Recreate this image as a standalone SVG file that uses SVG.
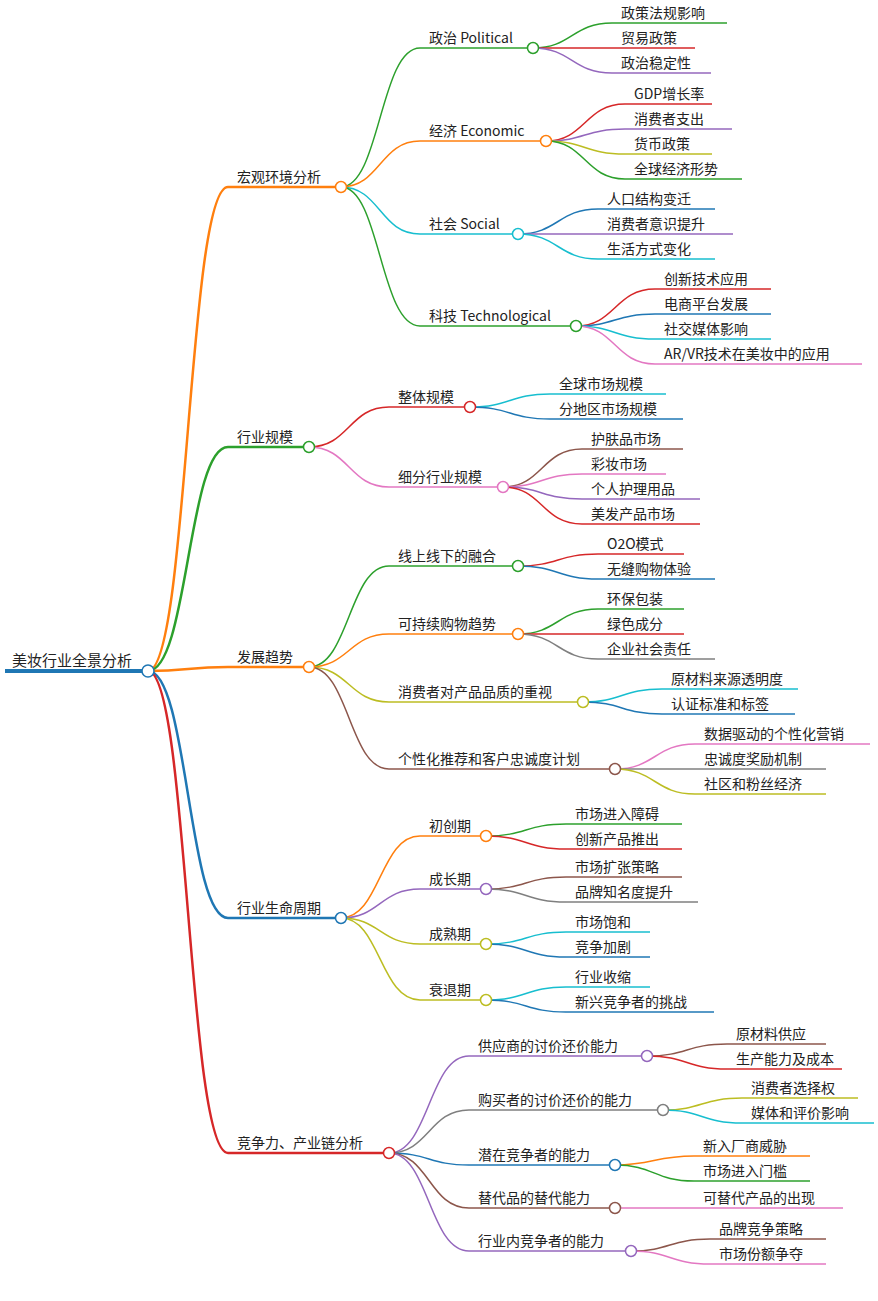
<svg xmlns="http://www.w3.org/2000/svg" width="878" height="1301" viewBox="0 0 878 1301">
<style>
text{font-family:"Noto Sans CJK SC","Liberation Sans",sans-serif;font-size:14px;fill:#222}
.e path{fill:none;stroke-width:1.5}
line{stroke-width:1.5}
circle{fill:#fff;stroke-width:1.5}
.G{stroke:#2ca02c}.O{stroke:#ff7f0e}.R{stroke:#d62728}.P{stroke:#9467bd}.Y{stroke:#bcbd22}.C{stroke:#17becf}.B{stroke:#1f77b4}.N{stroke:#8c564b}.K{stroke:#e377c2}.A{stroke:#7f7f7f}
</style>
<rect width="878" height="1301" fill="#fff"/>
<g class="e" id="connectors">
<path class="O" d="M148,671 C188,671 188,187 228,187" style="stroke-width:2.5"/>
<path class="G" d="M148,671 C188,671 188,447 228,447" style="stroke-width:2.5"/>
<path class="O" d="M148,671 C188,671 188,667 228,667" style="stroke-width:2.5"/>
<path class="B" d="M148,671 C188,671 188,918 228,918" style="stroke-width:2.5"/>
<path class="R" d="M148,671 C188,671 188,1153 228,1153" style="stroke-width:2.5"/>
<path class="G" d="M341,187 C380,187 380,48 420,48"/>
<path class="O" d="M341,187 C380,187 380,141 420,141"/>
<path class="C" d="M341,187 C380,187 380,234 420,234"/>
<path class="G" d="M341,187 C380,187 380,326 420,326"/>
<path class="G" d="M533,48 C572,48 572,23 612,23"/>
<path class="R" d="M533,48 C572,48 572,48 612,48"/>
<path class="P" d="M533,48 C572,48 572,73 612,73"/>
<path class="R" d="M546,141 C585,141 585,104 625,104"/>
<path class="P" d="M546,141 C585,141 585,129 625,129"/>
<path class="Y" d="M546,141 C585,141 585,154 625,154"/>
<path class="G" d="M546,141 C585,141 585,179 625,179"/>
<path class="B" d="M518,234 C558,234 558,209 598,209"/>
<path class="P" d="M518,234 C558,234 558,234 598,234"/>
<path class="C" d="M518,234 C558,234 558,259 598,259"/>
<path class="R" d="M576,326 C615,326 615,289 655,289"/>
<path class="B" d="M576,326 C615,326 615,314 655,314"/>
<path class="C" d="M576,326 C615,326 615,339 655,339"/>
<path class="K" d="M576,326 C615,326 615,364 655,364"/>
<path class="R" d="M309,447 C349,447 349,407 389,407"/>
<path class="K" d="M309,447 C349,447 349,487 389,487"/>
<path class="C" d="M470,407 C510,407 510,394 550,394"/>
<path class="B" d="M470,407 C510,407 510,419 550,419"/>
<path class="N" d="M503,487 C542,487 542,449 582,449"/>
<path class="K" d="M503,487 C542,487 542,474 582,474"/>
<path class="P" d="M503,487 C542,487 542,499 582,499"/>
<path class="R" d="M503,487 C542,487 542,524 582,524"/>
<path class="G" d="M309,667 C349,667 349,566 389,566"/>
<path class="O" d="M309,667 C349,667 349,634 389,634"/>
<path class="Y" d="M309,667 C349,667 349,702 389,702"/>
<path class="N" d="M309,667 C349,667 349,769 389,769"/>
<path class="R" d="M518,566 C558,566 558,554 598,554"/>
<path class="B" d="M518,566 C558,566 558,579 598,579"/>
<path class="G" d="M518,634 C558,634 558,609 598,609"/>
<path class="R" d="M518,634 C558,634 558,634 598,634"/>
<path class="A" d="M518,634 C558,634 558,659 598,659"/>
<path class="C" d="M583,702 C622,702 622,689 662,689"/>
<path class="B" d="M583,702 C622,702 622,714 662,714"/>
<path class="K" d="M615,769 C655,769 655,744 695,744"/>
<path class="A" d="M615,769 C655,769 655,769 695,769"/>
<path class="Y" d="M615,769 C655,769 655,794 695,794"/>
<path class="O" d="M341,918 C380,918 380,836 420,836"/>
<path class="P" d="M341,918 C380,918 380,889 420,889"/>
<path class="Y" d="M341,918 C380,918 380,944 420,944"/>
<path class="Y" d="M341,918 C380,918 380,1000 420,1000"/>
<path class="G" d="M486,836 C526,836 526,824 566,824"/>
<path class="R" d="M486,836 C526,836 526,849 566,849"/>
<path class="N" d="M486,889 C526,889 526,877 566,877"/>
<path class="A" d="M486,889 C526,889 526,902 566,902"/>
<path class="C" d="M486,944 C526,944 526,932 566,932"/>
<path class="B" d="M486,944 C526,944 526,957 566,957"/>
<path class="C" d="M486,1000 C526,1000 526,987 566,987"/>
<path class="B" d="M486,1000 C526,1000 526,1012 566,1012"/>
<path class="P" d="M389,1153 C429,1153 429,1056 469,1056"/>
<path class="A" d="M389,1153 C429,1153 429,1110 469,1110"/>
<path class="B" d="M389,1153 C429,1153 429,1165 469,1165"/>
<path class="N" d="M389,1153 C429,1153 429,1208 469,1208"/>
<path class="P" d="M389,1153 C429,1153 429,1251 469,1251"/>
<path class="N" d="M647,1056 C687,1056 687,1044 727,1044"/>
<path class="R" d="M647,1056 C687,1056 687,1069 727,1069"/>
<path class="Y" d="M663,1110 C702,1110 702,1098 742,1098"/>
<path class="C" d="M663,1110 C702,1110 702,1123 742,1123"/>
<path class="O" d="M615,1165 C654,1165 654,1156 694,1156"/>
<path class="G" d="M615,1165 C654,1165 654,1181 694,1181"/>
<path class="K" d="M615,1208 C654,1208 654,1208 694,1208"/>
<path class="N" d="M631,1251 C670,1251 670,1239 710,1239"/>
<path class="K" d="M631,1251 C670,1251 670,1264 710,1264"/>
</g>
<g id="root"><line class="B" x1="5" y1="671" x2="148" y2="671" style="stroke-width:4"/><text x="12" y="666" style="font-size:15px">美妆行业全景分析</text><circle class="B" cx="148" cy="671" r="6"/></g>
<g id="n1"><line class="O" x1="228" y1="187" x2="341" y2="187" style="stroke-width:2.5"/><text x="237" y="182">宏观环境分析</text><circle class="O" cx="341" cy="187" r="5.5"/></g>
<g id="n2"><line class="G" x1="228" y1="447" x2="309" y2="447" style="stroke-width:2.5"/><text x="237" y="442">行业规模</text><circle class="G" cx="309" cy="447" r="5.5"/></g>
<g id="n3"><line class="O" x1="228" y1="667" x2="309" y2="667" style="stroke-width:2.5"/><text x="237" y="662">发展趋势</text><circle class="O" cx="309" cy="667" r="5.5"/></g>
<g id="n4"><line class="B" x1="228" y1="918" x2="341" y2="918" style="stroke-width:2.5"/><text x="237" y="913">行业生命周期</text><circle class="B" cx="341" cy="918" r="5.5"/></g>
<g id="n5"><line class="R" x1="228" y1="1153" x2="389" y2="1153" style="stroke-width:2.5"/><text x="237" y="1148">竞争力、产业链分析</text><circle class="R" cx="389" cy="1153" r="5.5"/></g>
<g id="n1a"><line class="G" x1="420" y1="48" x2="533" y2="48"/><text x="429" y="43">政治 Political</text><circle class="G" cx="533" cy="48" r="5.5"/></g>
<g id="n1b"><line class="O" x1="420" y1="141" x2="546" y2="141"/><text x="429" y="136">经济 Economic</text><circle class="O" cx="546" cy="141" r="5.5"/></g>
<g id="n1c"><line class="C" x1="420" y1="234" x2="518" y2="234"/><text x="429" y="229">社会 Social</text><circle class="C" cx="518" cy="234" r="5.5"/></g>
<g id="n1d"><line class="G" x1="420" y1="326" x2="576" y2="326"/><text x="429" y="321">科技 Technological</text><circle class="G" cx="576" cy="326" r="5.5"/></g>
<g id="l1"><line class="G" x1="612" y1="23" x2="727" y2="23"/><text x="621" y="18">政策法规影响</text></g>
<g id="l2"><line class="R" x1="612" y1="48" x2="695" y2="48"/><text x="621" y="43">贸易政策</text></g>
<g id="l3"><line class="P" x1="612" y1="73" x2="711" y2="73"/><text x="621" y="68">政治稳定性</text></g>
<g id="l4"><line class="R" x1="625" y1="104" x2="712" y2="104"/><text x="634" y="99">GDP增长率</text></g>
<g id="l5"><line class="P" x1="625" y1="129" x2="732" y2="129"/><text x="634" y="124">消费者支出</text></g>
<g id="l6"><line class="Y" x1="625" y1="154" x2="712" y2="154"/><text x="634" y="149">货币政策</text></g>
<g id="l7"><line class="G" x1="625" y1="179" x2="742" y2="179"/><text x="634" y="174">全球经济形势</text></g>
<g id="l8"><line class="B" x1="598" y1="209" x2="715" y2="209"/><text x="607" y="204">人口结构变迁</text></g>
<g id="l9"><line class="P" x1="598" y1="234" x2="733" y2="234"/><text x="607" y="229">消费者意识提升</text></g>
<g id="l10"><line class="C" x1="598" y1="259" x2="715" y2="259"/><text x="607" y="254">生活方式变化</text></g>
<g id="l11"><line class="R" x1="655" y1="289" x2="771" y2="289"/><text x="664" y="284">创新技术应用</text></g>
<g id="l12"><line class="B" x1="655" y1="314" x2="771" y2="314"/><text x="664" y="309">电商平台发展</text></g>
<g id="l13"><line class="C" x1="655" y1="339" x2="771" y2="339"/><text x="664" y="334">社交媒体影响</text></g>
<g id="l14"><line class="K" x1="655" y1="364" x2="862" y2="364"/><text x="664" y="359">AR/VR技术在美妆中的应用</text></g>
<g id="n2a"><line class="R" x1="389" y1="407" x2="470" y2="407"/><text x="398" y="402">整体规模</text><circle class="R" cx="470" cy="407" r="5.5"/></g>
<g id="n2b"><line class="K" x1="389" y1="487" x2="503" y2="487"/><text x="398" y="482">细分行业规模</text><circle class="K" cx="503" cy="487" r="5.5"/></g>
<g id="l15"><line class="C" x1="550" y1="394" x2="666" y2="394"/><text x="559" y="389">全球市场规模</text></g>
<g id="l16"><line class="B" x1="550" y1="419" x2="683" y2="419"/><text x="559" y="414">分地区市场规模</text></g>
<g id="l17"><line class="N" x1="582" y1="449" x2="683" y2="449"/><text x="591" y="444">护肤品市场</text></g>
<g id="l18"><line class="K" x1="582" y1="474" x2="666" y2="474"/><text x="591" y="469">彩妆市场</text></g>
<g id="l19"><line class="P" x1="582" y1="499" x2="700" y2="499"/><text x="591" y="494">个人护理用品</text></g>
<g id="l20"><line class="R" x1="582" y1="524" x2="700" y2="524"/><text x="591" y="519">美发产品市场</text></g>
<g id="n3a"><line class="G" x1="389" y1="566" x2="518" y2="566"/><text x="398" y="561">线上线下的融合</text><circle class="G" cx="518" cy="566" r="5.5"/></g>
<g id="n3b"><line class="O" x1="389" y1="634" x2="518" y2="634"/><text x="398" y="629">可持续购物趋势</text><circle class="O" cx="518" cy="634" r="5.5"/></g>
<g id="n3c"><line class="Y" x1="389" y1="702" x2="583" y2="702"/><text x="398" y="697">消费者对产品品质的重视</text><circle class="Y" cx="583" cy="702" r="5.5"/></g>
<g id="n3d"><line class="N" x1="389" y1="769" x2="615" y2="769"/><text x="398" y="764">个性化推荐和客户忠诚度计划</text><circle class="N" cx="615" cy="769" r="5.5"/></g>
<g id="l21"><line class="R" x1="598" y1="554" x2="684" y2="554"/><text x="607" y="549">O2O模式</text></g>
<g id="l22"><line class="B" x1="598" y1="579" x2="715" y2="579"/><text x="607" y="574">无缝购物体验</text></g>
<g id="l23"><line class="G" x1="598" y1="609" x2="684" y2="609"/><text x="607" y="604">环保包装</text></g>
<g id="l24"><line class="R" x1="598" y1="634" x2="684" y2="634"/><text x="607" y="629">绿色成分</text></g>
<g id="l25"><line class="A" x1="598" y1="659" x2="715" y2="659"/><text x="607" y="654">企业社会责任</text></g>
<g id="l26"><line class="C" x1="662" y1="689" x2="798" y2="689"/><text x="671" y="684">原材料来源透明度</text></g>
<g id="l27"><line class="B" x1="662" y1="714" x2="795" y2="714"/><text x="671" y="709">认证标准和标签</text></g>
<g id="l28"><line class="K" x1="695" y1="744" x2="870" y2="744"/><text x="704" y="739">数据驱动的个性化营销</text></g>
<g id="l29"><line class="A" x1="695" y1="769" x2="826" y2="769"/><text x="704" y="764">忠诚度奖励机制</text></g>
<g id="l30"><line class="Y" x1="695" y1="794" x2="826" y2="794"/><text x="704" y="789">社区和粉丝经济</text></g>
<g id="n4a"><line class="O" x1="420" y1="836" x2="486" y2="836"/><text x="429" y="831">初创期</text><circle class="O" cx="486" cy="836" r="5.5"/></g>
<g id="n4b"><line class="P" x1="420" y1="889" x2="486" y2="889"/><text x="429" y="884">成长期</text><circle class="P" cx="486" cy="889" r="5.5"/></g>
<g id="n4c"><line class="Y" x1="420" y1="944" x2="486" y2="944"/><text x="429" y="939">成熟期</text><circle class="Y" cx="486" cy="944" r="5.5"/></g>
<g id="n4d"><line class="Y" x1="420" y1="1000" x2="486" y2="1000"/><text x="429" y="995">衰退期</text><circle class="Y" cx="486" cy="1000" r="5.5"/></g>
<g id="l31"><line class="G" x1="566" y1="824" x2="682" y2="824"/><text x="575" y="819">市场进入障碍</text></g>
<g id="l32"><line class="R" x1="566" y1="849" x2="682" y2="849"/><text x="575" y="844">创新产品推出</text></g>
<g id="l33"><line class="N" x1="566" y1="877" x2="682" y2="877"/><text x="575" y="872">市场扩张策略</text></g>
<g id="l34"><line class="A" x1="566" y1="902" x2="698" y2="902"/><text x="575" y="897">品牌知名度提升</text></g>
<g id="l35"><line class="C" x1="566" y1="932" x2="650" y2="932"/><text x="575" y="927">市场饱和</text></g>
<g id="l36"><line class="B" x1="566" y1="957" x2="650" y2="957"/><text x="575" y="952">竞争加剧</text></g>
<g id="l37"><line class="C" x1="566" y1="987" x2="650" y2="987"/><text x="575" y="982">行业收缩</text></g>
<g id="l38"><line class="B" x1="566" y1="1012" x2="714" y2="1012"/><text x="575" y="1007">新兴竞争者的挑战</text></g>
<g id="n5a"><line class="P" x1="469" y1="1056" x2="647" y2="1056"/><text x="478" y="1051">供应商的讨价还价能力</text><circle class="P" cx="647" cy="1056" r="5.5"/></g>
<g id="n5b"><line class="A" x1="469" y1="1110" x2="663" y2="1110"/><text x="478" y="1105">购买者的讨价还价的能力</text><circle class="A" cx="663" cy="1110" r="5.5"/></g>
<g id="n5c"><line class="B" x1="469" y1="1165" x2="615" y2="1165"/><text x="478" y="1160">潜在竞争者的能力</text><circle class="B" cx="615" cy="1165" r="5.5"/></g>
<g id="n5d"><line class="N" x1="469" y1="1208" x2="615" y2="1208"/><text x="478" y="1203">替代品的替代能力</text><circle class="N" cx="615" cy="1208" r="5.5"/></g>
<g id="n5e"><line class="P" x1="469" y1="1251" x2="631" y2="1251"/><text x="478" y="1246">行业内竞争者的能力</text><circle class="P" cx="631" cy="1251" r="5.5"/></g>
<g id="l39"><line class="N" x1="727" y1="1044" x2="826" y2="1044"/><text x="736" y="1039">原材料供应</text></g>
<g id="l40"><line class="R" x1="727" y1="1069" x2="842" y2="1069"/><text x="736" y="1064">生产能力及成本</text></g>
<g id="l41"><line class="Y" x1="742" y1="1098" x2="858" y2="1098"/><text x="751" y="1093">消费者选择权</text></g>
<g id="l42"><line class="C" x1="742" y1="1123" x2="874" y2="1123"/><text x="751" y="1118">媒体和评价影响</text></g>
<g id="l43"><line class="O" x1="694" y1="1156" x2="810" y2="1156"/><text x="703" y="1151">新入厂商威胁</text></g>
<g id="l44"><line class="G" x1="694" y1="1181" x2="810" y2="1181"/><text x="703" y="1176">市场进入门槛</text></g>
<g id="l45"><line class="K" x1="694" y1="1208" x2="843" y2="1208"/><text x="703" y="1203">可替代产品的出现</text></g>
<g id="l46"><line class="N" x1="710" y1="1239" x2="826" y2="1239"/><text x="719" y="1234">品牌竞争策略</text></g>
<g id="l47"><line class="K" x1="710" y1="1264" x2="826" y2="1264"/><text x="719" y="1259">市场份额争夺</text></g>
</svg>
